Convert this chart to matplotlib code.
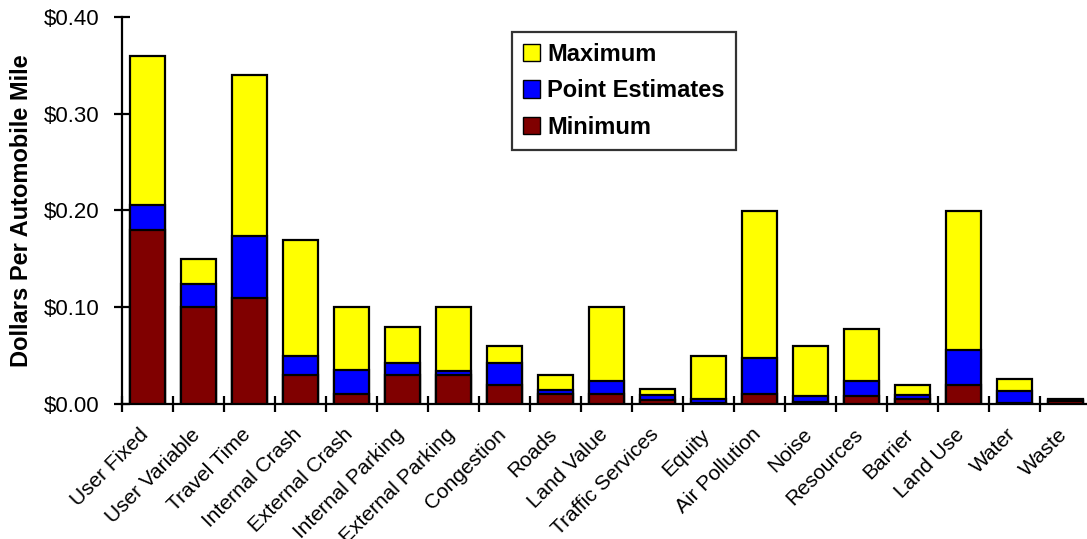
import matplotlib
matplotlib.use("Agg")
import matplotlib.pyplot as plt
from matplotlib.patches import Patch
from matplotlib.ticker import FuncFormatter, MultipleLocator
from matplotlib.transforms import ScaledTranslation

categories = ["User Fixed", "User Variable", "Travel Time", "Internal Crash", "External Crash",
              "Internal Parking", "External Parking", "Congestion", "Roads", "Land Value",
              "Traffic Services", "Equity", "Air Pollution", "Noise", "Resources", "Barrier",
              "Land Use", "Water", "Waste"]
maximum = [0.360, 0.150, 0.340, 0.170, 0.100, 0.080, 0.100, 0.060, 0.030, 0.100,
           0.015, 0.050, 0.200, 0.060, 0.078, 0.020, 0.200, 0.026, 0.005]
point = [0.206, 0.124, 0.174, 0.050, 0.035, 0.042, 0.034, 0.042, 0.014, 0.024,
         0.009, 0.005, 0.048, 0.008, 0.024, 0.009, 0.056, 0.013, 0.004]
minimum = [0.180, 0.100, 0.110, 0.030, 0.010, 0.030, 0.030, 0.020, 0.010, 0.010,
           0.004, 0.001, 0.010, 0.002, 0.008, 0.005, 0.020, 0.001, 0.003]

plt.rcParams['font.family'] = ['Liberation Sans', 'DejaVu Sans']

fig = plt.figure(figsize=(10.87, 5.39), dpi=100)
ax = fig.add_axes([122/1087, (539-404)/539, (1091-122)/1087, (404-17)/539])

x = list(range(len(categories)))
w = 0.667
ax.bar(x, maximum, width=w, color="#FFFF00", edgecolor="black", linewidth=1.6, zorder=2)
ax.bar(x, point, width=w, color="#0000FF", edgecolor="black", linewidth=1.6, zorder=3)
ax.bar(x, minimum, width=w, color="#800000", edgecolor="black", linewidth=1.6, zorder=4)

ax.set_xlim(-0.5, len(categories) - 0.5)
ax.set_ylim(0, 0.40)
ax.yaxis.set_major_locator(MultipleLocator(0.10))
ax.yaxis.set_major_formatter(FuncFormatter(lambda v, p: f"${v:.2f}"))

for s in ["top", "right"]:
    ax.spines[s].set_visible(False)
for s in ["left", "bottom"]:
    ax.spines[s].set_linewidth(1.6)

ax.set_xticks([i - 0.5 for i in x] + [len(categories) - 0.5])
ax.set_xticklabels([])
ax.set_xticks(x, minor=True)
ax.set_xticklabels(categories, minor=True, rotation=45, ha="right", va="top",
                   rotation_mode="anchor", fontsize=15)
ax.tick_params(axis="x", which="major", direction="inout", length=12, width=1.6)
ax.tick_params(axis="x", which="minor", length=0, pad=15)
shift = ScaledTranslation(-6/72, 0, fig.dpi_scale_trans)
for lab in ax.get_xticklabels(minor=True):
    lab.set_transform(lab.get_transform() + shift)
ax.tick_params(axis="y", direction="inout", length=12, width=1.6, labelsize=16, pad=10)

ax.set_ylabel("Dollars Per Automobile Mile", fontsize=17, fontweight="bold", labelpad=8)

handles = [Patch(facecolor="#FFFF00", edgecolor="black", label="Maximum"),
           Patch(facecolor="#0000FF", edgecolor="black", label="Point Estimates"),
           Patch(facecolor="#800000", edgecolor="black", label="Minimum")]
leg = ax.legend(handles=handles, loc="upper left", bbox_to_anchor=((512-122)/969, (404-32)/387),
                prop={"weight": "bold", "size": 17}, frameon=True, fancybox=False,
                edgecolor="black", handlelength=0.75, handleheight=0.75, handletextpad=0.3,
                borderpad=0.45, labelspacing=0.58, borderaxespad=0)
leg.get_frame().set_linewidth(1.6)

fig.savefig("out.png", dpi=100)
